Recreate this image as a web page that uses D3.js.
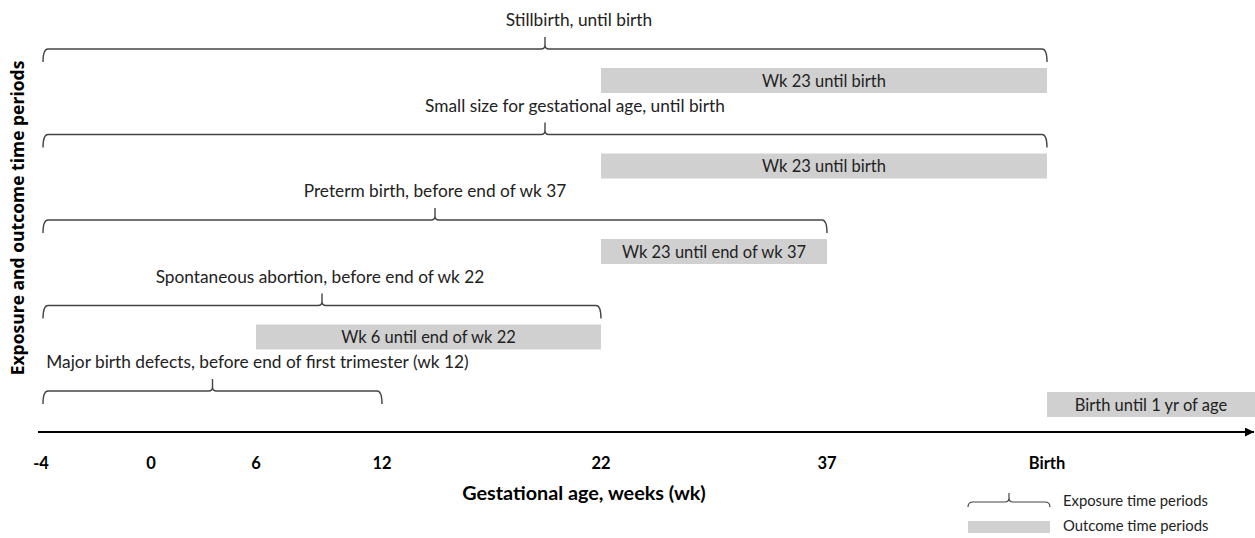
<!DOCTYPE html>
<html>

<head>
    <meta charset="utf-8">
    <style>
        body {
            margin: 0;
            background: #fff;
        }

        svg {
            display: block;
        }

        .lbl {
            font-family: Lato, sans-serif;
            fill: #222;
        }
    </style>
</head>

<body>
    <svg width="1255" height="538"></svg>
</body>

<script src="https://d3js.org/d3.v7.min.js"></script>

<script>

    // outcome rows, top to bottom
    let outcomes = [
        "Stillbirth, until birth",
        "Small size for gestational age, until birth",
        "Preterm birth, before end of wk 37",
        "Spontaneous abortion, before end of wk 22",
        "Major birth defects, before end of first trimester (wk 12)"
    ]

    // exposure windows in gestational weeks (birth = 40)
    let exposureStart = [-4, -4, -4, -4, -4]
    let exposureEnd = [40, 40, 37, 22, 12]

    // outcome windows (week 92 = 1 yr after birth)
    let outcomeLabels = [
        "Wk 23 until birth",
        "Wk 23 until birth",
        "Wk 23 until end of wk 37",
        "Wk 6 until end of wk 22",
        "Birth until 1 yr of age"
    ]
    let outcomeStart = [22, 22, 22, 6, 40]
    let outcomeEnd = [40, 40, 37, 22, 92]

    let tickValues = [-4, 0, 6, 12, 22, 37, 40]
    let tickLabels = ["-4", "0", "6", "12", "22", "37", "Birth"]

    let rows = outcomes.map(function (d, i) {
        return {
            name: d,
            e0: exposureStart[i], e1: exposureEnd[i],
            o0: outcomeStart[i], o1: outcomeEnd[i],
            oname: outcomeLabels[i]
        }
    })

    let svg = d3.select("svg")

    // the axis is not to scale, so piecewise linear
    let x = d3.scaleLinear()
        .domain([-4, 0, 6, 12, 22, 37, 40, 92])
        .range([43, 151, 256, 382, 601, 827, 1047, 1255])

    let y = d3.scalePoint()
        .domain(outcomes)
        .range([49, 391])

    // label nudges so text sits like the original
    let labelShift = [34, 30, 0, -2, 45]

    function bracket(x0, x1, yy, drop, notch) {
        let mid = (x0 + x1) / 2
        let r = Math.min(5, drop)
        return "M" + x0 + "," + (yy + drop)
            + "Q" + x0 + "," + yy + " " + (x0 + r) + "," + yy
            + "H" + (mid - 4)
            + "Q" + mid + "," + yy + " " + mid + "," + (yy - 4)
            + "V" + (yy - notch)
            + "M" + mid + "," + (yy - 4)
            + "Q" + mid + "," + yy + " " + (mid + 4) + "," + yy
            + "H" + (x1 - r)
            + "Q" + x1 + "," + yy + " " + x1 + "," + (yy + drop)
    }

    let g = svg.append("g")

    // outcome bars
    g.selectAll(".bar")
        .data(rows)
        .join("rect")
        .attr("class", "bar")
        .attr("x", d => x(d.o0))
        .attr("width", d => x(d.o1) - x(d.o0))
        .attr("y", (d, i) => y(d.name) + (i == 4 ? 1 : 19))
        .attr("height", 25)
        .style("fill", "#d0d0d0")

    g.selectAll(".barlabel")
        .data(rows)
        .join("text")
        .attr("class", "lbl barlabel")
        .attr("x", d => (x(d.o0) + x(d.o1)) / 2)
        .attr("y", (d, i) => y(d.name) + (i == 4 ? 14 : 32))
        .attr("dy", "0.35em")
        .style("text-anchor", "middle")
        .style("font-size", "16.5px")
        .text(d => d.oname)

    // exposure brackets
    g.selectAll(".bracket")
        .data(rows)
        .join("path")
        .attr("class", "bracket")
        .attr("d", d => bracket(x(d.e0), x(d.e1), y(d.name), 13, 12))
        .style("fill", "none")
        .style("stroke", "#444")
        .style("stroke-width", 1.4)

    g.selectAll(".rowlabel")
        .data(rows)
        .join("text")
        .attr("class", "lbl rowlabel")
        .attr("x", (d, i) => (x(d.e0) + x(d.e1)) / 2 + labelShift[i])
        .attr("y", d => y(d.name) - 29)
        .attr("dy", "0.35em")
        .style("text-anchor", "middle")
        .style("font-size", "17.3px")
        .text(d => d.name)

    // x axis with arrow
    svg.append("defs").append("marker")
        .attr("id", "arrow")
        .attr("viewBox", "0 0 10 10")
        .attr("refX", 10)
        .attr("refY", 5)
        .attr("markerWidth", 4.5)
        .attr("markerHeight", 4.5)
        .attr("orient", "auto")
        .append("path")
        .attr("d", "M0,0L10,5L0,10Z")
        .style("fill", "#000")

    svg.append("line")
        .attr("x1", 38)
        .attr("x2", 1254)
        .attr("y1", 432)
        .attr("y2", 432)
        .style("stroke", "#000")
        .style("stroke-width", 2)
        .attr("marker-end", "url(#arrow)")

    svg.append("g")
        .selectAll("text")
        .data(tickValues)
        .join("text")
        .attr("class", "lbl")
        .attr("x", (d, i) => x(d) + (i == 0 ? -2 : 0))
        .attr("y", 463)
        .attr("dy", "0.35em")
        .style("text-anchor", "middle")
        .style("font-size", "16.5px")
        .style("font-weight", "bold")
        .style("fill", "#000")
        .text((d, i) => tickLabels[i])

    svg.append("text")
        .attr("class", "lbl")
        .attr("x", 584)
        .attr("y", 493)
        .attr("dy", "0.35em")
        .style("text-anchor", "middle")
        .style("font-size", "19.8px")
        .style("font-weight", "bold")
        .style("fill", "#000")
        .text("Gestational age, weeks (wk)")

    svg.append("text")
        .attr("transform", "translate(18,218) rotate(-90)")
        .attr("dy", "0.35em")
        .style("text-anchor", "middle")
        .style("font-family", "'Open Sans', sans-serif")
        .style("font-size", "17.5px")
        .style("font-weight", "bold")
        .style("fill", "#000")
        .text("Exposure and outcome time periods")

    // legend
    let legend = svg.append("g")

    legend.append("path")
        .attr("d", bracket(968, 1050, 502, 5, 9))
        .style("fill", "none")
        .style("stroke", "#444")
        .style("stroke-width", 1.2)

    legend.append("rect")
        .attr("x", 968)
        .attr("y", 521)
        .attr("width", 82)
        .attr("height", 12)
        .style("fill", "#d0d0d0")

    legend.append("text")
        .attr("class", "lbl")
        .attr("x", 1063)
        .attr("y", 501)
        .attr("dy", "0.35em")
        .style("font-size", "14.8px")
        .text("Exposure time periods")

    legend.append("text")
        .attr("class", "lbl")
        .attr("x", 1063)
        .attr("y", 526)
        .attr("dy", "0.35em")
        .style("font-size", "14.8px")
        .text("Outcome time periods")

</script>

</html>
